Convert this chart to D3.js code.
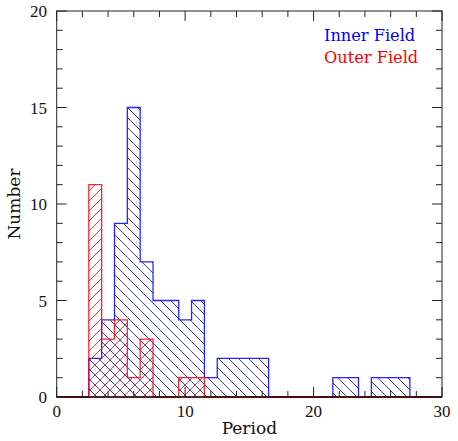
<!DOCTYPE html>
<html>
<head>
<meta charset="utf-8">
<script src="https://cdn.jsdelivr.net/npm/d3@7/dist/d3.min.js"></script>
<style>
  html, body { margin: 0; padding: 0; background: #fff; }
  svg { display: block; }
  text { font-family: "DejaVu Serif", serif; }
  .tick-label { font-family: "Liberation Serif", "DejaVu Serif", serif; font-size: 17px; }
</style>
</head>
<body>
<svg id="chart" width="458" height="441"></svg>
<script>
// ---- data ----
const periods = [3,4,5,6,7,8,9,10,11,12,13,14,15,16,17,18,19,20,21,22,23,24,25,26,27];
const innerCounts = [2,4,9,15,7,5,5,4,5,1,2,2,2,2,0,0,0,0,0,1,1,0,1,1,1];
const outerCounts = [11,3,4,1,3,0,0,1,1,0,0,0,0,0,0,0,0,0,0,0,0,0,0,0,0];
const binWidth = 1;
const xTickLabels = [0,10,20,30];
const yTickLabels = [0,5,10,15,20];
const seriesNames = ["Inner Field","Outer Field"];

// ---- layout ----
const svg = d3.select("#chart");
const pLeft = 56.7, pRight = 442, pTop = 11, pBottom = 397;
const x = d3.scaleLinear().domain([0,30]).range([pLeft,pRight]);
const y = d3.scaleLinear().domain([0,20]).range([pBottom,pTop]);

const defs = svg.append("defs");
function hatch(id, color, dir) {
  const p = defs.append("pattern").attr("id", id)
    .attr("patternUnits","userSpaceOnUse").attr("width",10).attr("height",10);
  const d = dir === "back"
    ? "M0,0L10,10M-5,5L5,15M5,-5L15,5"
    : "M0,10L10,0M-5,5L5,-5M5,15L15,5";
  p.append("path").attr("d", d).attr("stroke", color).attr("stroke-width", 0.9).attr("fill","none");
}
hatch("hatchBlue", "#1a1aff", "back");
hatch("hatchRed", "#ff2020", "fwd");

function drawHist(counts, color, patId) {
  const g = svg.append("g");
  g.selectAll("rect").data(periods.map((p,i)=>({p, c: counts[i]})).filter(d=>d.c>0))
    .enter().append("rect")
    .attr("x", d => x(d.p - binWidth/2))
    .attr("width", d => x(d.p + binWidth/2) - x(d.p - binWidth/2))
    .attr("y", d => y(d.c))
    .attr("height", d => y(0) - y(d.c))
    .attr("fill", `url(#${patId})`);
  const pts = [[0,0],[periods[0]-binWidth/2, 0]];
  periods.forEach((p,i) => {
    pts.push([p - binWidth/2, counts[i]]);
    pts.push([p + binWidth/2, counts[i]]);
  });
  pts.push([periods[periods.length-1]+binWidth/2, 0]);
  pts.push([30, 0]);
  const line = d3.line().x(d=>x(d[0])).y(d=>y(d[1]));
  g.append("path").attr("d", line(pts)).attr("fill","none")
    .attr("stroke", color).attr("stroke-width", 1.3).attr("stroke-opacity", 0.85);
}
drawHist(innerCounts, "#0000ff", "hatchBlue");
drawHist(outerCounts, "#ff0000", "hatchRed");

// ---- frame & ticks ----
const ax = svg.append("g").attr("stroke","#222").attr("stroke-width",1).attr("fill","none");
ax.append("rect").attr("x",pLeft).attr("y",pTop).attr("width",pRight-pLeft).attr("height",pBottom-pTop);
ax.append("line").attr("x1",pLeft).attr("x2",pRight).attr("y1",pBottom).attr("y2",pBottom)
  .attr("stroke","#400000").attr("stroke-width",1.3);

d3.range(0,31,2).forEach(v => {
  const len = (v % 10 === 0) ? 10 : 6;
  ax.append("line").attr("x1",x(v)).attr("x2",x(v)).attr("y1",pBottom).attr("y2",pBottom-len);
  ax.append("line").attr("x1",x(v)).attr("x2",x(v)).attr("y1",pTop).attr("y2",pTop+len);
});
d3.range(0,21,1).forEach(v => {
  const len = (v % 5 === 0) ? 10 : 6;
  ax.append("line").attr("y1",y(v)).attr("y2",y(v)).attr("x1",pLeft).attr("x2",pLeft+len);
  ax.append("line").attr("y1",y(v)).attr("y2",y(v)).attr("x1",pRight).attr("x2",pRight-len);
});

// tick labels
svg.append("g").selectAll("text").data(xTickLabels).enter().append("text")
  .attr("class","tick-label").attr("x", d=>x(d)).attr("y", 417)
  .attr("text-anchor","middle").attr("fill","#111").text(d=>d);
svg.append("g").selectAll("text").data(yTickLabels).enter().append("text")
  .attr("class","tick-label").attr("x", 47).attr("y", d=>y(d)+6)
  .attr("text-anchor","end").attr("fill","#111").text(d=>d);

// axis titles
svg.append("text").attr("x", (pLeft+pRight)/2).attr("y", 434).attr("text-anchor","middle")
  .attr("font-size", 17).attr("fill","#111").text("Period");
svg.append("text").attr("transform", `translate(20,${(pTop+pBottom)/2}) rotate(-90)`)
  .attr("text-anchor","middle").attr("font-size", 17).attr("fill","#111").text("Number");

// legend
svg.append("text").attr("x", 324).attr("y", 41).attr("font-size", 16.2).attr("fill","#0000ff").text(seriesNames[0]);
svg.append("text").attr("x", 324).attr("y", 63).attr("font-size", 16.2).attr("fill","#ff0000").text(seriesNames[1]);
</script>
</body>
</html>
